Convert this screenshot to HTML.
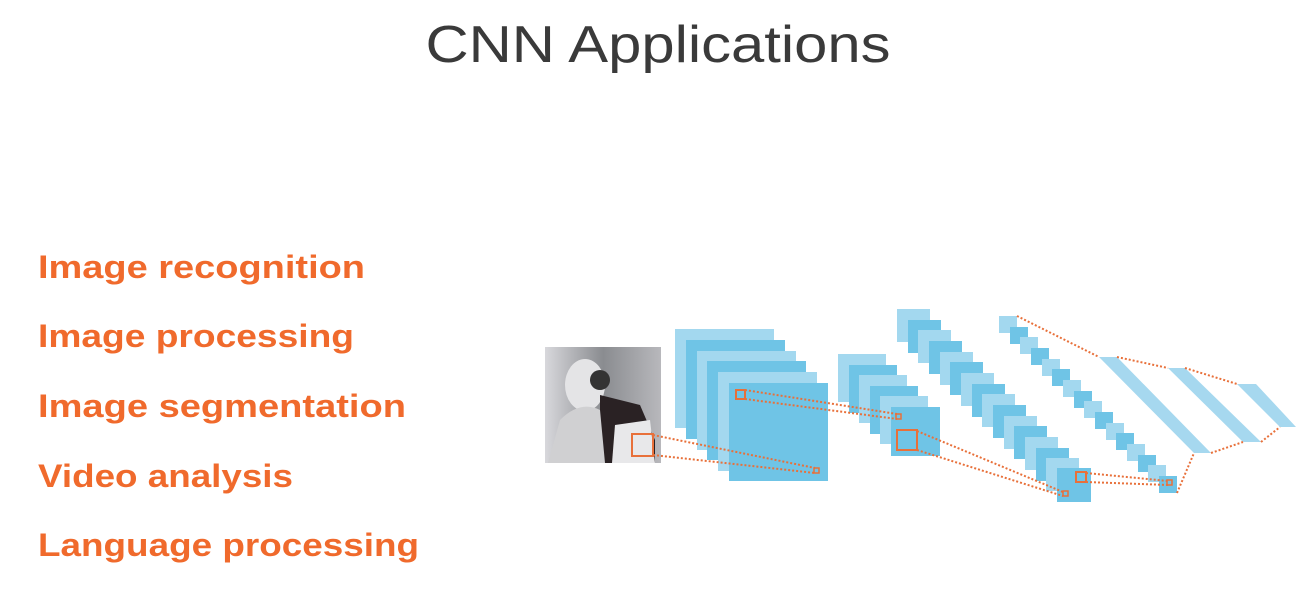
<!DOCTYPE html>
<html><head><meta charset="utf-8"><style>
html,body{margin:0;padding:0;background:#fff;}
svg{display:block}
</style></head><body>
<svg width="1308" height="605" viewBox="0 0 1308 605" xmlns="http://www.w3.org/2000/svg">
<defs>
<linearGradient id="bg" x1="0" y1="0" x2="1" y2="0">
<stop offset="0" stop-color="#d8d8dc"/><stop offset="0.5" stop-color="#8a8c90"/><stop offset="1" stop-color="#b8b8bc"/>
</linearGradient>
</defs>
<text x="658" y="62" text-anchor="middle" font-family="Liberation Sans, sans-serif" font-size="52" fill="#3a3a3a" textLength="465" lengthAdjust="spacingAndGlyphs">CNN Applications</text>
<g font-family="Liberation Sans, sans-serif" font-weight="bold" font-size="32" fill="#f06a2c">
<text x="38" y="278" textLength="327" lengthAdjust="spacingAndGlyphs">Image recognition</text>
<text x="38" y="347" textLength="316" lengthAdjust="spacingAndGlyphs">Image processing</text>
<text x="38" y="417" textLength="368" lengthAdjust="spacingAndGlyphs">Image segmentation</text>
<text x="38" y="487" textLength="255" lengthAdjust="spacingAndGlyphs">Video analysis</text>
<text x="38" y="556" textLength="381" lengthAdjust="spacingAndGlyphs">Language processing</text>
</g>
<!-- robot image -->
<rect x="545" y="347" width="116" height="116" fill="url(#bg)"/>
<ellipse cx="585" cy="385" rx="20" ry="26" fill="#e4e4e6"/>
<circle cx="600" cy="380" r="10" fill="#333"/>
<path d="M600 395 L640 405 L655 440 L655 463 L600 463 Z" fill="#2a2224"/>
<path d="M560 420 Q580 400 600 410 L605 463 L548 463 Z" fill="#d0d0d2"/>
<path d="M615 425 L650 420 L655 463 L612 463 Z" fill="#e8e8ea"/>
<!-- block1 -->
<g>
<rect x="675" y="329" width="99" height="99" fill="#a3d8ef"/>
<rect x="686" y="340" width="99" height="99" fill="#6fc4e6"/>
<rect x="697" y="351" width="99" height="99" fill="#a3d8ef"/>
<rect x="707" y="361" width="99" height="99" fill="#6fc4e6"/>
<rect x="718" y="372" width="99" height="99" fill="#a3d8ef"/>
<rect x="729" y="383" width="99" height="98" fill="#6fc4e6"/>
</g>
<!-- block2 -->
<g>
<rect x="838" y="354" width="48" height="48" fill="#a3d8ef"/>
<rect x="849" y="365" width="48" height="48" fill="#6fc4e6"/>
<rect x="859" y="375" width="48" height="48" fill="#a3d8ef"/>
<rect x="870" y="386" width="48" height="48" fill="#6fc4e6"/>
<rect x="880" y="396" width="48" height="48" fill="#a3d8ef"/>
<rect x="891" y="407" width="49" height="49" fill="#6fc4e6"/>
</g>
<!-- block3 -->
<g>
<rect x="897" y="309" width="33" height="33" fill="#a3d8ef"/>
<rect x="908" y="320" width="33" height="33" fill="#6fc4e6"/>
<rect x="918" y="330" width="33" height="33" fill="#a3d8ef"/>
<rect x="929" y="341" width="33" height="33" fill="#6fc4e6"/>
<rect x="940" y="352" width="33" height="33" fill="#a3d8ef"/>
<rect x="950" y="362" width="33" height="33" fill="#6fc4e6"/>
<rect x="961" y="373" width="33" height="33" fill="#a3d8ef"/>
<rect x="972" y="384" width="33" height="33" fill="#6fc4e6"/>
<rect x="982" y="394" width="33" height="33" fill="#a3d8ef"/>
<rect x="993" y="405" width="33" height="33" fill="#6fc4e6"/>
<rect x="1004" y="416" width="33" height="33" fill="#a3d8ef"/>
<rect x="1014" y="426" width="33" height="33" fill="#6fc4e6"/>
<rect x="1025" y="437" width="33" height="33" fill="#a3d8ef"/>
<rect x="1036" y="448" width="33" height="33" fill="#6fc4e6"/>
<rect x="1046" y="458" width="33" height="33" fill="#a3d8ef"/>
<rect x="1057" y="468" width="34" height="34" fill="#6fc4e6"/>
</g>
<!-- block4 -->
<g>
<rect x="999" y="316" width="18" height="17" fill="#a3d8ef"/>
<rect x="1010" y="327" width="18" height="17" fill="#6fc4e6"/>
<rect x="1020" y="337" width="18" height="17" fill="#a3d8ef"/>
<rect x="1031" y="348" width="18" height="17" fill="#6fc4e6"/>
<rect x="1042" y="359" width="18" height="17" fill="#a3d8ef"/>
<rect x="1052" y="369" width="18" height="17" fill="#6fc4e6"/>
<rect x="1063" y="380" width="18" height="17" fill="#a3d8ef"/>
<rect x="1074" y="391" width="18" height="17" fill="#6fc4e6"/>
<rect x="1084" y="401" width="18" height="17" fill="#a3d8ef"/>
<rect x="1095" y="412" width="18" height="17" fill="#6fc4e6"/>
<rect x="1106" y="423" width="18" height="17" fill="#a3d8ef"/>
<rect x="1116" y="433" width="18" height="17" fill="#6fc4e6"/>
<rect x="1127" y="444" width="18" height="17" fill="#a3d8ef"/>
<rect x="1138" y="455" width="18" height="17" fill="#6fc4e6"/>
<rect x="1148" y="465" width="18" height="17" fill="#a3d8ef"/>
<rect x="1159" y="476" width="18" height="17" fill="#6fc4e6"/>
</g>
<!-- FC -->
<polygon points="1099,357 1117,357 1211,453 1194,453" fill="#a6d8ef"/>
<polygon points="1168,368 1185,368 1261,442 1243,442" fill="#a6d8ef"/>
<polygon points="1237,384 1256,384 1296,427 1280,427" fill="#a6d8ef"/>
<!-- orange -->
<g stroke="#e8703a" fill="none" stroke-width="2">
<rect x="632" y="434" width="21" height="22"/>
<rect x="736" y="390" width="9" height="9"/>
<rect x="897" y="430" width="20" height="20"/>
<rect x="1076" y="472" width="10" height="10"/>
<g stroke-width="1.5">
<rect x="814" y="468" width="5" height="5"/>
<rect x="896" y="414" width="5" height="5"/>
<rect x="1063" y="491" width="5" height="5"/>
<rect x="1167" y="480" width="5" height="5"/>
</g>
<g stroke-dasharray="2 2">
<line x1="653" y1="435" x2="815" y2="468"/>
<line x1="653" y1="455" x2="815" y2="473"/>
<line x1="745" y1="390" x2="897" y2="414"/>
<line x1="745" y1="399" x2="897" y2="419"/>
<line x1="917" y1="431" x2="1063" y2="492"/>
<line x1="917" y1="450" x2="1063" y2="496"/>
<line x1="1086" y1="473" x2="1168" y2="481"/>
<line x1="1086" y1="482" x2="1168" y2="485"/>
<line x1="1017" y1="316" x2="1099" y2="357"/>
<line x1="1117" y1="357" x2="1168" y2="368"/>
<line x1="1185" y1="368" x2="1237" y2="384"/>
<line x1="1177" y1="493" x2="1194" y2="453"/>
<line x1="1211" y1="453" x2="1243" y2="442"/>
<line x1="1261" y1="442" x2="1280" y2="427"/>
</g>
</g>
</svg>
</body></html>
